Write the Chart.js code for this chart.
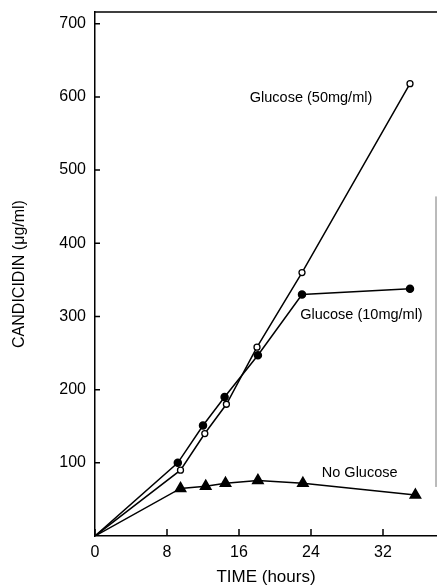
<!DOCTYPE html>
<html>
<head>
<meta charset="utf-8">
<script src="https://cdn.jsdelivr.net/npm/chart.js@4/dist/chart.umd.min.js"></script>
<style>
  html, body { margin: 0; padding: 0; background: #fff; }
  #wrap { width: 437px; height: 587px; }
</style>
</head>
<body>
<div id="wrap"><canvas id="chart1"></canvas></div>
<script>
// (hours vs candicidin ug/ml)
let hours50 = [0, 9.5, 12.2, 14.6, 18, 23, 35];
let glucose50 = [0, 90, 140, 180, 258, 360, 618];
let hours10 = [0, 9.2, 12, 14.4, 18.1, 23, 35];
let glucose10 = [0, 100, 151, 190, 247, 330, 338];
let hoursNone = [0, 9.5, 12.3, 14.5, 18.1, 23.1, 35.6];
let noGlucose = [0, 65, 68, 72, 76, 72, 56];
let xTicks = [0, 8, 16, 24, 32];
let yTicks = [100, 200, 300, 400, 500, 600, 700];
let seriesNames = ['Glucose (50mg/ml)', 'Glucose (10mg/ml)', 'No Glucose'];

let fontFamily = '"Liberation Sans", Arial, sans-serif';

function pairs(xs, ys) {
  return xs.map((v, i) => ({x: v, y: ys[i]}));
}
// no marker on the origin point
let hideFirst = (r) => (c) => c.dataIndex === 0 ? 0 : r;

// text next to each curve, anchored in data units
let labelAt = [
  {x: 17.2, y: 599},
  {x: 22.8, y: 302},
  {x: 25.2, y: 86}
];

let frame = {
  id: 'frame',
  afterDatasetsDraw(chart) {
    let {ctx, chartArea: a, scales: {x, y}} = chart;
    ctx.save();
    ctx.strokeStyle = '#000';
    ctx.lineWidth = 1.5;
    ctx.beginPath();
    ctx.moveTo(a.left, a.top);
    ctx.lineTo(a.right, a.top);
    // ticks point into the plot
    yTicks.forEach(v => {
      let py = y.getPixelForValue(v);
      ctx.moveTo(a.left, py);
      ctx.lineTo(a.left + 5, py);
    });
    xTicks.forEach(v => {
      let px = x.getPixelForValue(v);
      ctx.moveTo(px, a.bottom);
      ctx.lineTo(px, a.bottom - 7);
    });
    ctx.stroke();

    // faint edge on the right of the scan
    ctx.strokeStyle = '#777';
    ctx.lineWidth = 1;
    ctx.beginPath();
    ctx.moveTo(a.right - 1, y.getPixelForValue(464));
    ctx.lineTo(a.right - 1, y.getPixelForValue(67));
    ctx.stroke();

    ctx.fillStyle = '#000';
    ctx.font = '14.5px ' + fontFamily;
    ctx.textAlign = 'left';
    ctx.textBaseline = 'middle';
    seriesNames.forEach((t, i) => {
      ctx.fillText(t, x.getPixelForValue(labelAt[i].x), y.getPixelForValue(labelAt[i].y));
    });
    ctx.restore();
  }
};

let ctx1 = document.getElementById('chart1');
let chart1 = new Chart(ctx1, {
  type: 'line',
  data: {
    datasets: [{
      label: seriesNames[0],
      data: pairs(hours50, glucose50),
      borderColor: '#000',
      borderWidth: 1.5,
      backgroundColor: '#fff',
      pointBorderColor: '#000',
      pointBorderWidth: 1.3,
      pointRadius: hideFirst(3),
      pointStyle: 'circle',
      tension: 0
    }, {
      label: seriesNames[1],
      data: pairs(hours10, glucose10),
      borderColor: '#000',
      borderWidth: 1.5,
      backgroundColor: '#000',
      pointBorderColor: '#000',
      pointRadius: hideFirst(3.5),
      pointStyle: 'circle',
      tension: 0
    }, {
      label: seriesNames[2],
      data: pairs(hoursNone, noGlucose),
      borderColor: '#000',
      borderWidth: 1.5,
      backgroundColor: '#000',
      pointBorderColor: '#000',
      pointRadius: hideFirst(6),
      pointStyle: 'triangle',
      tension: 0
    }]
  },
  options: {
    responsive: true,
    maintainAspectRatio: false,
    animation: false,
    layout: {
      autoPadding: false,
      padding: {left: 0, top: 12, right: 0, bottom: 0}
    },
    plugins: {
      legend: { display: false },
      tooltip: { enabled: false }
    },
    scales: {
      x: {
        type: 'linear',
        min: 0,
        max: 38,
        afterBuildTicks: (s) => { s.ticks = xTicks.map(v => ({value: v})); },
        afterFit: (s) => { s.height = 51; s.paddingLeft = 0; s.paddingRight = 0; },
        grid: { drawOnChartArea: false, drawTicks: false },
        border: { display: true, color: '#000', width: 1.5 },
        ticks: {
          color: '#000',
          padding: 7,
          maxRotation: 0,
          font: { family: fontFamily, size: 16 }
        },
        title: {
          display: true,
          text: 'TIME (hours)',
          color: '#000',
          font: { family: fontFamily, size: 17, lineHeight: 1 },
          padding: { top: 0, bottom: 1 }
        }
      },
      y: {
        type: 'linear',
        min: 0,
        max: 716,
        afterBuildTicks: (s) => { s.ticks = yTicks.map(v => ({value: v})); },
        afterFit: (s) => { s.width = 95; s.paddingTop = 0; s.paddingBottom = 0; },
        grid: { drawOnChartArea: false, drawTicks: false },
        border: { display: true, color: '#000', width: 1.5 },
        ticks: {
          color: '#000',
          padding: 9,
          font: { family: fontFamily, size: 16 }
        },
        title: {
          display: true,
          text: 'CANDICIDIN (\u03bcg/ml)',
          color: '#000',
          font: { family: fontFamily, size: 16, lineHeight: 1.2 },
          padding: { top: 10, bottom: 0 }
        }
      }
    }
  },
  plugins: [frame]
});
</script>
</body>
</html>
